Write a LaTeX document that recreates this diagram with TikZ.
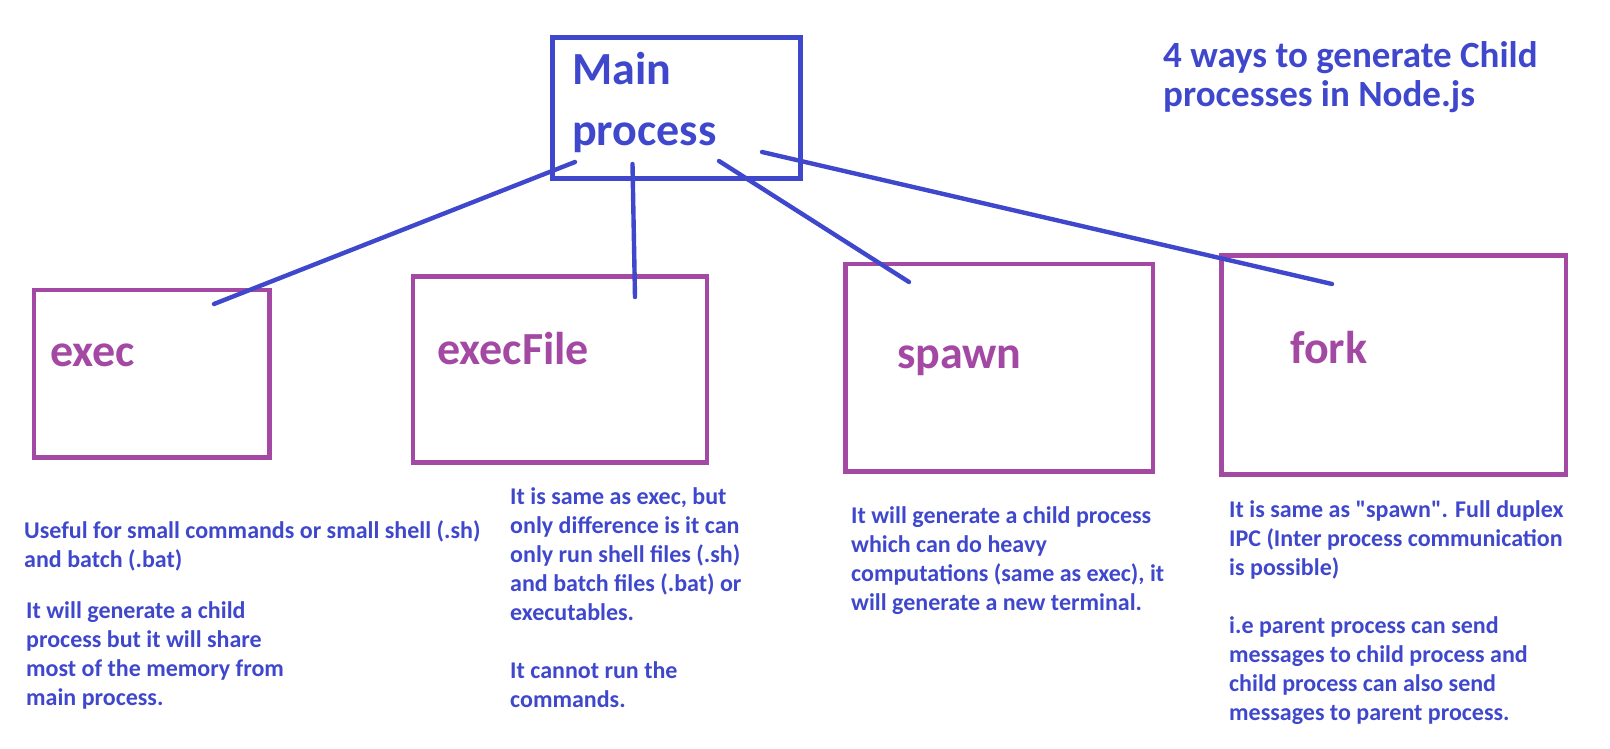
\documentclass[tikz,border=0pt]{standalone}
\usepackage{fontspec}
\setmainfont{Carlito}
\usepackage{tikz}
\usetikzlibrary{positioning}

\definecolor{penblue}{HTML}{3F48CC}
\definecolor{penpurple}{HTML}{A349A4}

\begin{document}
\begin{tikzpicture}[x=1pt, y=-1pt,
        mainbox/.style={draw=penblue, line width=4.6pt, anchor=north west, inner sep=0pt},
        procbox/.style={draw=penpurple, line width=4.6pt, anchor=north west, inner sep=0pt},
        procname/.style={text=penpurple, font=\fontsize{46}{61}\selectfont\bfseries, anchor=base west, inner sep=0pt},
        note/.style={text=penblue, font=\fontsize{24}{29}\selectfont\bfseries, align=left, anchor=base west, inner sep=0pt},
        link/.style={draw=penblue, line width=4.4pt, line cap=round}]
        \useasboundingbox (0,0) rectangle (1610,749);

        % main process (multi-line nodes sit on their last baseline)
        \node[mainbox, minimum width=248pt, minimum height=140.5pt] (main) at (550,35.5) {};
        \node[procname, text=penblue, align=left] (mainname) at (572,146) {Main\\process};

        % the four ways
        \node[procbox, minimum width=235.5pt, minimum height=167.5pt] (exec) at (31.5,287.5) {};
        \node[procbox, minimum width=294pt, minimum height=186pt] (execfile) at (410.5,274) {};
        \node[procbox, minimum width=307.5pt, minimum height=207.5pt] (spawn) at (843,261.5) {};
        \node[procbox, minimum width=344.5pt, minimum height=219pt] (fork) at (1219,253) {};

        \node[procname] (execname) at (50,366) {exec};
        \node[procname] (execfilename) at (437,364) {execFile};
        \node[procname] (spawnname) at (897,368) {spawn};
        \node[procname] (forkname) at (1290,363) {fork};

        % connectors
        \coordinate (mainA) at (575,162);
        \coordinate (mainB) at (632.5,164);
        \coordinate (mainC) at (719,161);
        \coordinate (mainD) at (762,152);
        \coordinate (execA) at (214,304);
        \coordinate (execfileA) at (635,297);
        \coordinate (spawnA) at (909,282);
        \coordinate (forkA) at (1332,284);
        \draw[link] (mainA) -- (execA);
        \draw[link] (mainB) -- (execfileA);
        \draw[link] (mainC) -- (spawnA);
        \draw[link] (mainD) -- (forkA);

        % title
        \node[note, font=\fontsize{37}{39}\selectfont\bfseries] (title) at (1163,107) {4 ways to generate Child\\processes in Node.js};

        % notes
        \node[note] (execnoteA) at (24,567) {Useful for small commands or small shell (.sh)\\and batch (.bat)};
        \node[note] (execnoteB) at (26,705) {It will generate a child\\process but it will share\\most of the memory from\\main process.};
        \node[note] (execfilenote) at (510,707) {It is same as exec, but\\only difference is it can\\only run shell files (.sh)\\and batch files (.bat) or\\executables.\\[29pt]It cannot run the\\commands.};
        \node[note] (spawnnote) at (851,610) {It will generate a child process\\which can do heavy\\computations (same as exec), it\\will generate a new terminal.};
        \node[note] (forknote) at (1229,720) {It is same as \textquotedbl spawn\textquotedbl. Full duplex\\IPC (Inter process communication\\is possible)\\[29pt]i.e parent process can send\\messages to child process and\\child process can also send\\messages to parent process.};
\end{tikzpicture}
\end{document}
